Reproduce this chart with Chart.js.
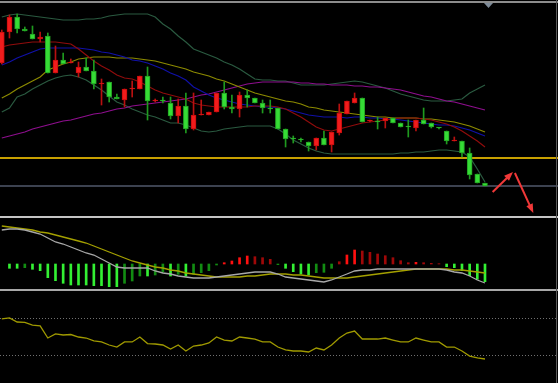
<!DOCTYPE html>
<html>
<head>
<meta charset="utf-8">
<script src="https://cdn.jsdelivr.net/npm/chart.js@4.4.0/dist/chart.umd.min.js"></script>
<style>
  body { margin: 0; background: #000; }
  #wrap { position: relative; width: 558px; height: 383px; background: #000; overflow: hidden; }
  canvas { position: absolute; left: 0; }
  .sep { position: absolute; left: 0; width: 558px; }
</style>
</head>
<body>
<div id="wrap">
  <canvas id="kline" width="558" height="216" style="top:0"></canvas>
  <canvas id="macd" width="558" height="70" style="top:219px"></canvas>
  <canvas id="rsi" width="558" height="92" style="top:291px"></canvas>
  <div class="sep" style="top:1px;height:2px;background:#8c8c8c"></div>
  <div class="sep" style="top:216px;height:2px;background:#c4c4c4"></div>
  <div class="sep" style="top:289px;height:2px;background:#a8a8a8"></div>
  <div style="position:absolute;top:0;left:556px;width:1px;height:383px;background:#5a5a5a"></div>
</div>
<script>
// candles
const open  = [237,268,283,271,266,261,264,227,240,237,227,233,229,216,218,203,200,211,211,224,199,200,197,184,194,171,185,185,188,207,193,191,205,202,197,191.5,192,171,161.5,160.5,158,154,162,155,167,186,197,202,179,179,179,182,177,173.5,172,180,177,172.5,169,159,159,147,126,117];
const high  = [270,285,286,273,274,268,267,254,247,241,238,242,240,221,218,206,211,219,224,233,201,203,203,201,207,207,200,188,207,218,205,208,210,202,200,200,192,171,164,162,158,162,169,168,196,199,207,202,180,183,182,182,177,180,180,192,177,172.5,169,163,159,152,126,117];
const low   = [236,262,267,269,261,258,227,227,236,237,223,229,211,195,198,201,193,203,211,180,198,197,181,177,167,170,185,185,188,191,187,183,193,197,187,187,171,153,157,158,149,150,155,148,165,186,197,178,178,171,172,177,173,163,169,176,172,171,156,159,143,121,117,114];
const close = [268,283,271,269,261,263,227,240,236,238,233,229,216,217,203,201,211,212,224,199,200,199,184,194,171,185,185.5,188,207,193,191,205,202,197,192,191,171,161,161,160,154,162,155,168,187,199,202,178,179.5,178,182,177,173,173,180,176,173,172,159,159.5,147,125,117,114];

// moving averages and bollinger band
const ma5   = [253,255,256,257,258,258,258,258,257,256,251,245,239,234,230,225,222,221,218,214,210,207,205,203,201,197,195,194,193,193,193,193,193,194,194,194,193,191,187,183,178,173,170,169,171,173,175,177,178,179,180,181,182,182,182,181,180,178,176,173,169,164,159,153];
const ma10  = [235,238,242,245,248,251,252,252,252,252,252,251,250,248,247,245,243,240,239,237,234,231,227,224,220,213,209,205,202,200,198,196,195,194,193,193,192,191,189,187,185,184,183,183,183,182,183,183,182,182,181,181,180,179,178,177,176,175,175,174,172,170,167,164];
const ma20  = [202,206,211,215,219,223,230,233,236,238,241,242,243,243,243,242,242,242,241,240,239,237,235,233,231,228,226,224,221,219,216,213,210,207,205,203,201,199,198,196,193,192,190,189,188,187,186,185,184,183,183,182,182,182,182,181,181,180,179,178,176,174,171,168];
const ma60  = [162,164,166,168,171,173,175,177,179,180,182,184,186,187,189,191,192,194,195,196,197,198,199,200,201,203,205,206,208,210,212,214,216,217,218,218,218,218,218,217,217,216,216,215,215,215,214,214,213,213,212,211,210,208,206,204,203,201,199,198,196,194,192,190];
const bollUp  = [283,285,286,285,284,283,282,281,280,280,280,281,281,282,284,285,286,286,286,286,283,276,271,264,258,251,248,245,242,238,235,231,226,221,220,220,219,219,217,215,215,215,215,216,217,218,219,218,216,214,212,209,206,204,202,200,199,199,199,200,201,207,211,215];
const bollLow = [188,192,203,206,211,215,219,222,224,225,223,220,215,210,204,198,195,191,188,185,183,180,177,177,175,172,169,168,169,171,172,173,174,174,174,174,171,166,160,156,152,149,147,146,146,146,146,146,146,146,146,146,147,147,148,148,149,150,150,149,148,143,131,118];

// horizontal price levels
const levels = [142, 114];

// signal arrows [x0, y0, x1, y1] in bar index / price
const signalArrows = [[64.0, 108, 66.65, 128], [66.9, 127, 69.3, 87]];

// MACD
const macdHist = [null,-0.43,-0.43,-0.37,-0.53,-0.67,-1.37,-1.67,-1.93,-2.1,-2.1,-2.1,-2.17,-2.17,-2.27,-2.27,-1.93,-1.7,-1.2,-1.2,-1.1,-0.83,-1.2,-1.03,-1.2,-1.03,-0.87,-0.67,-0.1,0.13,0.3,0.63,0.8,0.73,0.63,0.47,-0.07,-0.43,-0.77,-1.0,-1.1,-0.87,-0.83,-0.43,0.23,0.9,1.4,1.3,1.17,1.0,0.83,0.63,0.33,0.13,0.17,0.13,0.07,0.03,-0.27,-0.37,-0.67,-1.17,-1.53,-1.77];
const dif = [3.4,3.5,3.5,3.4,3.2,3.0,2.6,2.2,2.0,1.7,1.4,1.1,0.9,0.5,0.1,-0.3,-0.4,-0.4,-0.4,-0.4,-0.7,-0.9,-1.0,-1.2,-1.3,-1.4,-1.4,-1.4,-1.3,-1.2,-1.1,-1.0,-0.9,-0.8,-0.8,-0.8,-1.0,-1.3,-1.4,-1.5,-1.6,-1.7,-1.8,-1.6,-1.3,-1.0,-0.7,-0.6,-0.6,-0.5,-0.5,-0.5,-0.5,-0.5,-0.5,-0.5,-0.5,-0.5,-0.6,-0.8,-0.9,-1.2,-1.6,-1.9];
const dea = [3.8,3.7,3.6,3.5,3.4,3.2,3.1,2.9,2.7,2.5,2.3,2.1,1.8,1.5,1.2,0.9,0.6,0.3,0.1,-0.1,-0.3,-0.4,-0.6,-0.7,-0.9,-1.0,-1.1,-1.2,-1.3,-1.3,-1.3,-1.3,-1.2,-1.2,-1.1,-1.0,-1.0,-1.0,-1.1,-1.1,-1.2,-1.3,-1.4,-1.4,-1.4,-1.4,-1.3,-1.2,-1.1,-1.0,-0.9,-0.8,-0.7,-0.6,-0.5,-0.5,-0.5,-0.5,-0.5,-0.6,-0.6,-0.7,-0.8,-0.9];

// RSI
const rsi = [69.6,70.7,66.3,65.8,63,62,48.9,53.3,52.2,52.7,50,48.9,45.7,44.6,41.3,39.1,44.6,44.6,50,42.9,42.4,41.3,37,41.3,34.8,40.2,41.3,43.5,50,46.7,45.7,50,48.9,47.8,44.6,44.6,39.1,35.9,34.8,34.8,33.7,38,35.9,41.3,48.9,54.3,56.5,47.8,47.8,47.8,48.9,46.7,44.6,44.6,48.9,46.7,44.6,44.6,39.1,39.1,34.8,29.3,27.2,26.1];
const rsiLevels = [30, 70];

const X_MIN = -0.235, X_MAX = 72.52;
const xy = arr => arr.map((v, i) => ({ x: i, y: v }));
const isUp = open.map((o, i) => close[i] >= o);

const xAxis = { type: 'linear', min: X_MIN, max: X_MAX, offset: false, display: false };

function lineSet(data, color, width) {
  return { type: 'line', data: xy(data), borderColor: color, borderWidth: width || 1.2,
           pointRadius: 0, tension: 0, fill: false };
}

const baseOpts = {
  responsive: false,
  animation: false,
  events: [],
  layout: { padding: 0 },
  plugins: { legend: { display: false }, tooltip: { enabled: false } }
};

const arrowPlugin = {
  id: 'arrows',
  afterDatasetsDraw(chart) {
    const { ctx, scales: { x, y } } = chart;
    ctx.save();
    ctx.strokeStyle = '#f03838';
    ctx.fillStyle = '#f03838';
    ctx.lineWidth = 2;
    signalArrows.forEach(a => {
      const x0 = x.getPixelForValue(a[0]), y0 = y.getPixelForValue(a[1]);
      const x1 = x.getPixelForValue(a[2]), y1 = y.getPixelForValue(a[3]);
      const ang = Math.atan2(y1 - y0, x1 - x0);
      ctx.beginPath();
      ctx.moveTo(x0, y0);
      ctx.lineTo(x1 - 6 * Math.cos(ang), y1 - 6 * Math.sin(ang));
      ctx.stroke();
      ctx.beginPath();
      ctx.moveTo(x1, y1);
      ctx.lineTo(x1 - 9 * Math.cos(ang) + 3.5 * Math.sin(ang), y1 - 9 * Math.sin(ang) - 3.5 * Math.cos(ang));
      ctx.lineTo(x1 - 9 * Math.cos(ang) - 3.5 * Math.sin(ang), y1 - 9 * Math.sin(ang) + 3.5 * Math.cos(ang));
      ctx.closePath();
      ctx.fill();
    });
    // little marker at top
    ctx.fillStyle = '#7d8a98';
    ctx.beginPath();
    ctx.moveTo(484, 3);
    ctx.lineTo(493, 3);
    ctx.lineTo(488.5, 8);
    ctx.closePath();
    ctx.fill();
    ctx.restore();
  }
};

new Chart(document.getElementById('kline'), {
  type: 'bar',
  data: {
    datasets: [
      {
        data: open.map((o, i) => ({ x: i, y: [o, close[i]] })),
        backgroundColor: isUp.map(u => u ? '#f01c1c' : '#36dc36'),
        borderColor: isUp.map(u => u ? '#c80c0c' : '#22a022'),
        borderWidth: 1,
        borderSkipped: false,
        barThickness: 5,
        minBarLength: 1,
        grouped: false
      },
      {
        data: low.map((l, i) => ({ x: i, y: [l, high[i]] })),
        backgroundColor: isUp.map(u => u ? '#b81010' : '#1f9a1f'),
        borderWidth: 0,
        barThickness: 1,
        grouped: false
      },
      lineSet(ma5, '#900c0c'),
      lineSet(ma10, '#1010a8'),
      lineSet(ma20, '#8c8a00'),
      lineSet(ma60, '#8e0e8e'),
      lineSet(bollUp, '#2a5a40'),
      lineSet(bollLow, '#2a5a40')
    ]
  },
  options: {
    ...baseOpts,
    scales: {
      x: xAxis,
      y: {
        min: 84, max: 300,
        ticks: { display: false },
        border: { display: false },
        afterBuildTicks: axis => { axis.ticks = levels.map(v => ({ value: v })); },
        grid: {
          drawTicks: false,
          color: ctx => ctx.index === 0 ? '#c8a000' : '#3c4250',
          lineWidth: 2
        }
      }
    }
  },
  plugins: [arrowPlugin]
});

let prevAbs = 0;
const histColors = macdHist.map(h => {
  const a = Math.abs(h || 0);
  const bright = a >= prevAbs;
  prevAbs = a;
  if (h > 0) return bright ? '#ff1010' : '#a00808';
  return bright ? '#33f033' : '#128c12';
});

new Chart(document.getElementById('macd'), {
  type: 'bar',
  data: {
    datasets: [
      lineSet(dif, '#a8a8a8', 1.3),
      lineSet(dea, '#a4a000', 1.3),
      {
        data: xy(macdHist),
        backgroundColor: histColors,
        borderWidth: 0,
        barThickness: 2,
        grouped: false
      }
    ]
  },
  options: {
    ...baseOpts,
    scales: {
      x: xAxis,
      y: { min: -2.5, max: 4.5, display: false }
    }
  }
});

new Chart(document.getElementById('rsi'), {
  type: 'line',
  data: {
    datasets: [lineSet(rsi, '#a09a00', 1.3)]
  },
  options: {
    ...baseOpts,
    scales: {
      x: xAxis,
      y: {
        min: 0, max: 100,
        ticks: { display: false },
        border: { display: false, dash: [1, 2] },
        afterBuildTicks: axis => { axis.ticks = rsiLevels.map(v => ({ value: v })); },
        grid: { drawTicks: false, color: '#707070', lineWidth: 1 }
      }
    }
  }
});
</script>
</body>
</html>
